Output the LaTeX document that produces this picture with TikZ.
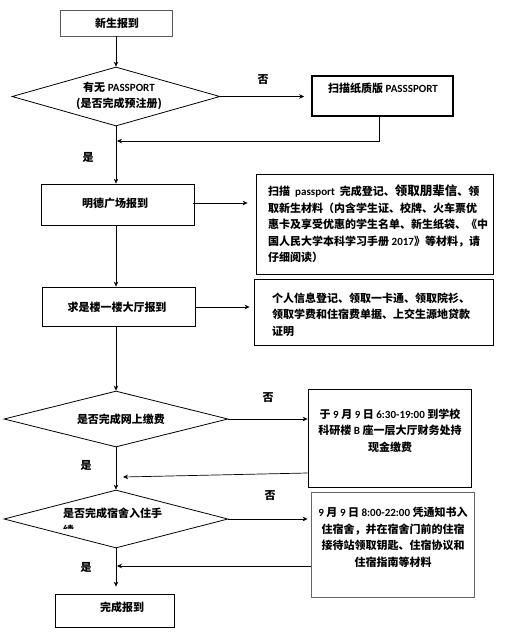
\documentclass[tikz,border=0pt]{standalone}
\usepackage{fontspec}
\setmainfont{Noto Sans CJK SC}
\newfontfamily\lat{Carlito}
\usetikzlibrary{arrows.meta,shapes.geometric}
\tikzset{
  txt/.style={font=\bfseries\fontsize{11}{16.5}\selectfont, inner sep=0pt},
  box/.style={draw, line width=0.8pt, inner sep=0pt},
  dia/.style={draw, diamond, line width=0.8pt, inner sep=0pt},
  arr/.style={-{Stealth[length=5pt,width=4.5pt]}, line width=0.7pt},
  ln/.style={line width=0.7pt}
}
\begin{document}
\begin{tikzpicture}[x=1pt,y=-1pt]
\useasboundingbox (0,0) rectangle (507,633);
% boxes
\node[box, draw=black!65, minimum width=112pt, minimum height=26pt] (start) at (116,23) {};
\node[txt] (startt) at (117,23) {新生报到};
\node[dia, minimum width=208pt, minimum height=59pt, aspect=3.525] (d1) at (116,96.5) {};
\node[txt, align=center] (d1t) at (119,96) {有无 {\lat PASSPORT}\\(是否完成预注册)};
\node[box, line width=1.6pt, minimum width=141pt, minimum height=40pt] (scan) at (382.5,96) {};
\node[txt] (scant) at (383,88) {扫描纸质版 {\lat PASSSPORT}};
\node[box, minimum width=153pt, minimum height=41pt] (b2) at (117.5,204.5) {};
\node[txt] (b2t) at (115,203) {明德广场报到};
\node[box, minimum width=237pt, minimum height=100pt] (b3) at (374.5,224) {};
\node[txt, align=left, anchor=west] (b3t) at (268,224) {扫描 \ {\lat passport} \ 完成登记、{\fontsize{12.5}{16.5}\selectfont 领取朋辈信}、领\\取新生材料（内含学生证、校牌、火车票优\\惠卡及享受优惠的学生名单、新生纸袋、《中\\国人民大学本科学习手册 {\lat 2017}》等材料，请\\仔细阅读）};
\node[box, minimum width=153pt, minimum height=39pt] (b4) at (118.5,306.5) {};
\node[txt] (b4t) at (117,307) {求是楼一楼大厅报到};
\node[box, minimum width=239pt, minimum height=66pt] (b5) at (373.5,312) {};
\node[txt, align=left, anchor=west] (b5t) at (272,314.5) {个人信息登记、领取一卡通、领取院衫、\\领取学费和住宿费单据、上交生源地贷款\\证明};
\node[dia, minimum width=224pt, minimum height=56pt, aspect=4] (d2) at (116,419) {};
\node[txt] (d2t) at (121,419) {是否完成网上缴费};
\node[box, minimum width=163pt, minimum height=98pt] (b6) at (389.5,438) {};
\node[txt, align=center] (b6t) at (390,430.5) {于 {\lat 9} 月 {\lat 9} 日 {\lat 6:30-19:00} 到学校\\科研楼 {\lat B} 座一层大厅财务处持\\现金缴费};
\node[dia, minimum width=224pt, minimum height=58pt, aspect=3.862] (d3) at (116,519) {};
\begin{scope}
\clip (40,500) rectangle (240,528);
\node[txt, align=left, anchor=north west] (d3t) at (63,508) {是否完成宿舍入住手\\续};
\end{scope}
\node[box, draw=black!60, minimum width=163pt, minimum height=105pt] (b7) at (392.5,544.5) {};
\node[txt, align=center] (b7t) at (393,537.5) {{\lat 9} 月 {\lat 9} 日 {\lat 8:00-22:00} 凭通知书入\\住宿舍，并在宿舍门前的住宿\\接待站领取钥匙、住宿协议和\\住宿指南等材料};
\node[box, minimum width=119pt, minimum height=33pt] (b8) at (114.5,610.5) {};
\node[txt] (b8t) at (122,607) {完成报到};
% labels
\node[txt] (no1) at (263,80) {否};
\node[txt] (yes1) at (88,157) {是};
\node[txt] (no2) at (268,398) {否};
\node[txt] (yes2) at (86,465) {是};
\node[txt] (no3) at (270,496) {否};
\node[txt] (yes3) at (86,567) {是};
% junctions
\coordinate (j1) at (117,141);
\coordinate (j2) at (123,477);
\coordinate (j3) at (117,566);
% connectors
\draw[arr] (start.south -| d1.north) -- (d1.north);
\draw[arr, shorten >=7pt] (d1.east) -- (scan.west |- d1.east);
\draw[arr] ([xshift=-3.5pt]scan.south) |- (j1);
\draw[arr] (d1.south) -- (d1.south |- b2.north);
\draw[arr, shorten <=-1pt, shorten >=8pt] (b2.east |- b2t) -- (b3.west |- b2t);
\draw[arr] (d1.south |- b2.south) -- (d1.south |- b4.north);
\draw[arr, shorten >=4pt] (b4.east |- b4t) -- (b5.west |- b4t);
\draw[arr] (d1.south |- b4.south) -- (d2.north);
\draw[arr] (d2.east) -- (b6.west |- d2.east);
\draw[arr] ([yshift=-35pt]b6.west) -- (j2);
\draw[arr] (d2.south) -- (d3.north);
\draw[arr, shorten >=3pt] (d3.east) -- (b7.west |- d3.east);
\draw[arr] ([yshift=-21.5pt]b7.west) -- (j3);
\draw[arr, shorten >=7pt] (d3.south) -- (d3.south |- b8.north);
\end{tikzpicture}
\end{document}
